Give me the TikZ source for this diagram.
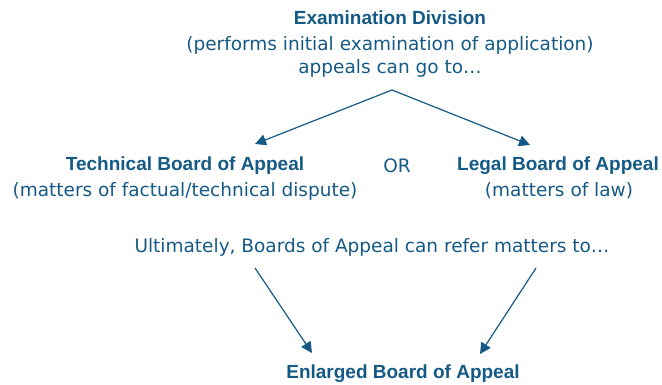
\documentclass[tikz,border=0pt]{standalone}
\usepackage{fontspec}
\setmainfont{DejaVu Sans}
\newfontfamily\headfont{Liberation Sans}
\usetikzlibrary{arrows, arrows.meta}
\definecolor{epoblue}{HTML}{155A85}

\begin{document}
\begin{tikzpicture}[x=1pt,y=-1pt,
  txt/.style={text=epoblue, inner sep=0pt, font=\fontsize{18.5}{23}\selectfont},
  head/.style={txt, font=\headfont\bfseries\fontsize{19}{23}\selectfont},
  arr/.style={epoblue, line width=1.2pt, -{Triangle[length=11pt,width=11pt]}}]
\useasboundingbox (0,0) rectangle (662,385);
% top: examination division
\node[head] (exam) at (390,18) {Examination Division};
\node[txt] (perf) at (390,45) {(performs initial examination of application)};
\node[txt] (goto) at (390,68) {appeals can go to\dots};
% boards of appeal
\node[head] (tech) at (185,166) {Technical Board of Appeal};
\node[txt] (techsub) at (185,191) {(matters of factual/technical dispute)};
\node[txt] (or) at (397,166) {OR};
\node[head] (legal) at (558,166) {Legal Board of Appeal};
\node[txt] (legalsub) at (559,191) {(matters of law)};
\node[txt] (ult) at (372,247) {Ultimately, Boards of Appeal can refer matters to\dots};
\node[head] (enl) at (403,374) {Enlarged Board of Appeal};
% arrow ends
\coordinate (fork) at (392,90);
\coordinate (techin) at (255,144);
\coordinate (legalin) at (530,145);
\coordinate (ultl) at (255,268);
\coordinate (ultr) at (536,268);
\coordinate (enll) at (312,353);
\coordinate (enlr) at (480,354);
\draw[arr] (fork) -- (techin);
\draw[arr] (fork) -- (legalin);
\draw[arr] (ultl) -- (enll);
\draw[arr] (ultr) -- (enlr);
\end{tikzpicture}
\end{document}
